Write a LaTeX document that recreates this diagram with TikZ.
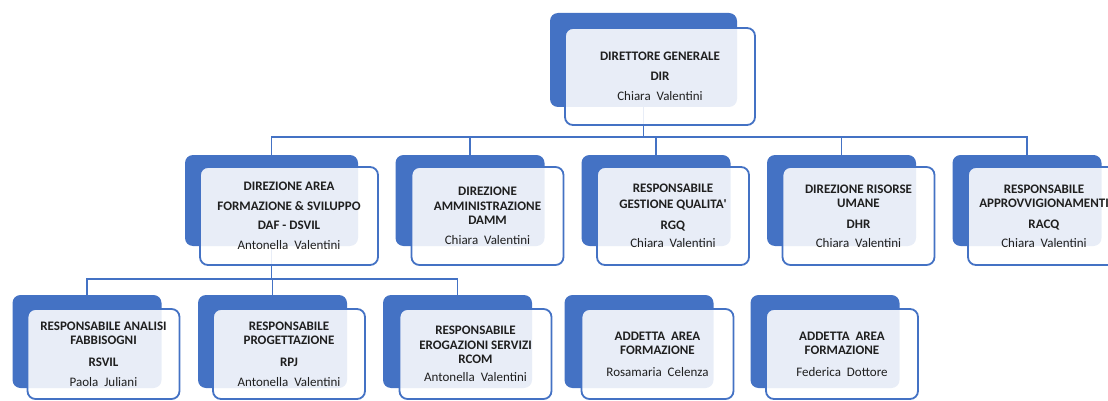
\documentclass[tikz,border=0pt]{standalone}
\usepackage{fontspec}
\setmainfont{Carlito}
\definecolor{orgblue}{HTML}{4472C4}
\definecolor{orgtext}{HTML}{1F1F1F}

\begin{document}
\begin{tikzpicture}[
     x=1pt, y=-1pt,
     % define styles
     back/.style={
         fill=orgblue,
         draw=none,
         rounded corners=8pt,
         inner sep=0pt,
         minimum width=149pt,
         minimum height=91pt
     },
     card/.style={
         draw=orgblue,
         line width=1.8pt,
         fill=white,
         fill opacity=0.88,
         text opacity=1,
         rounded corners=8pt,
         inner sep=0pt,
         align=center,
         text=orgtext,
         minimum width=152pt,
         minimum height=98pt,
         font=\fontsize{13}{14.5}\selectfont
     },
     link/.style={
         draw=orgblue,
         line width=1.9pt
     }
]
\useasboundingbox (0,0) rectangle (1108,401);

% back plates
\node[back, minimum width=187pt, minimum height=94pt] (dir-b) at (643.5,60) {};
\node[back, minimum width=173pt] (daf-b)  at (271.5,200.5) {};
\node[back] (damm-b) at (470,200.5) {};
\node[back] (rgq-b)  at (656,200.5) {};
\node[back] (dhr-b)  at (841.5,200.5) {};
\node[back] (racq-b) at (1027,200.5) {};
\node[back, minimum height=93pt] (rsvil-b) at (87,341.5) {};
\node[back, minimum height=93pt] (rpj-b)   at (272.5,341.5) {};
\node[back, minimum height=93pt] (rcom-b)  at (457.5,341.5) {};
\node[back, minimum height=93pt] (add1-b)  at (639,341.5) {};
\node[back, minimum height=93pt] (add2-b)  at (825,341.5) {};

% connectors
\coordinate (bus1) at (643.5,137);
\draw[link] (dir-b.south) -- (bus1);
\foreach \n in {daf,damm,rgq,dhr,racq}
    \draw[link] (bus1) -| (\n-b.north);
\coordinate (bus2) at (271.5,279);
\draw[link] (daf-b.south) -- (bus2);
\foreach \n in {rsvil,rpj,rcom}
    \draw[link] (bus2) -| (\n-b.north);

% cards
\node[card, minimum width=190pt, minimum height=97pt] (dir) at (660,76.5)
    {\textbf{DIRETTORE GENERALE}\\[5.5pt]\textbf{DIR}\\[5.5pt]Chiara~~Valentini};
\node[card, minimum width=178pt] (daf) at (289,216)
    {\textbf{DIREZIONE AREA}\\[5pt]\textbf{FORMAZIONE \& SVILUPPO}\\[5pt]\textbf{DAF - DSVIL}\\[5pt]Antonella~~Valentini};
\node[card] (damm) at (487.5,216)
    {\textbf{DIREZIONE}\\\textbf{AMMINISTRAZIONE}\\\textbf{DAMM}\\[5.5pt]Chiara~~Valentini};
\node[card] (rgq) at (673,216)
    {\textbf{RESPONSABILE}\\[1.5pt]\textbf{GESTIONE QUALITA\textquotesingle}\\[6pt]\textbf{RGQ}\\[3.5pt]Chiara~~Valentini};
\node[card] (dhr) at (858.5,216)
    {\textbf{DIREZIONE RISORSE}\\\textbf{UMANE}\\[6pt]\textbf{DHR}\\[4.5pt]Chiara~~Valentini};
\node[card] (racq) at (1044,216)
    {\textbf{RESPONSABILE}\\\textbf{APPROVVIGIONAMENTI}\\[6pt]\textbf{RACQ}\\[4.5pt]Chiara~~Valentini};

\node[card, minimum height=90pt] (rsvil) at (103.5,354)
    {\textbf{RESPONSABILE ANALISI}\\\textbf{FABBISOGNI}\\[7pt]\textbf{RSVIL}\\[5.5pt]Paola~~Juliani};
\node[card, minimum height=90pt] (rpj) at (289,354)
    {\textbf{RESPONSABILE}\\\textbf{PROGETTAZIONE}\\[7pt]\textbf{RPJ}\\[5.5pt]Antonella~~Valentini};
\node[card, minimum height=90pt] (rcom) at (475.5,354)
    {\textbf{RESPONSABILE}\\\textbf{EROGAZIONI SERVIZI}\\\textbf{RCOM}\\[3.5pt]Antonella~~Valentini};
\node[card, minimum height=90pt] (add1) at (657.5,354)
    {\textbf{ADDETTA~~AREA}\\\textbf{FORMAZIONE}\\[7pt]Rosamaria~~Celenza};
\node[card, minimum height=90pt] (add2) at (842,354)
    {\textbf{ADDETTA~~AREA}\\\textbf{FORMAZIONE}\\[7pt]Federica~~Dottore};
\end{tikzpicture}
\end{document}
